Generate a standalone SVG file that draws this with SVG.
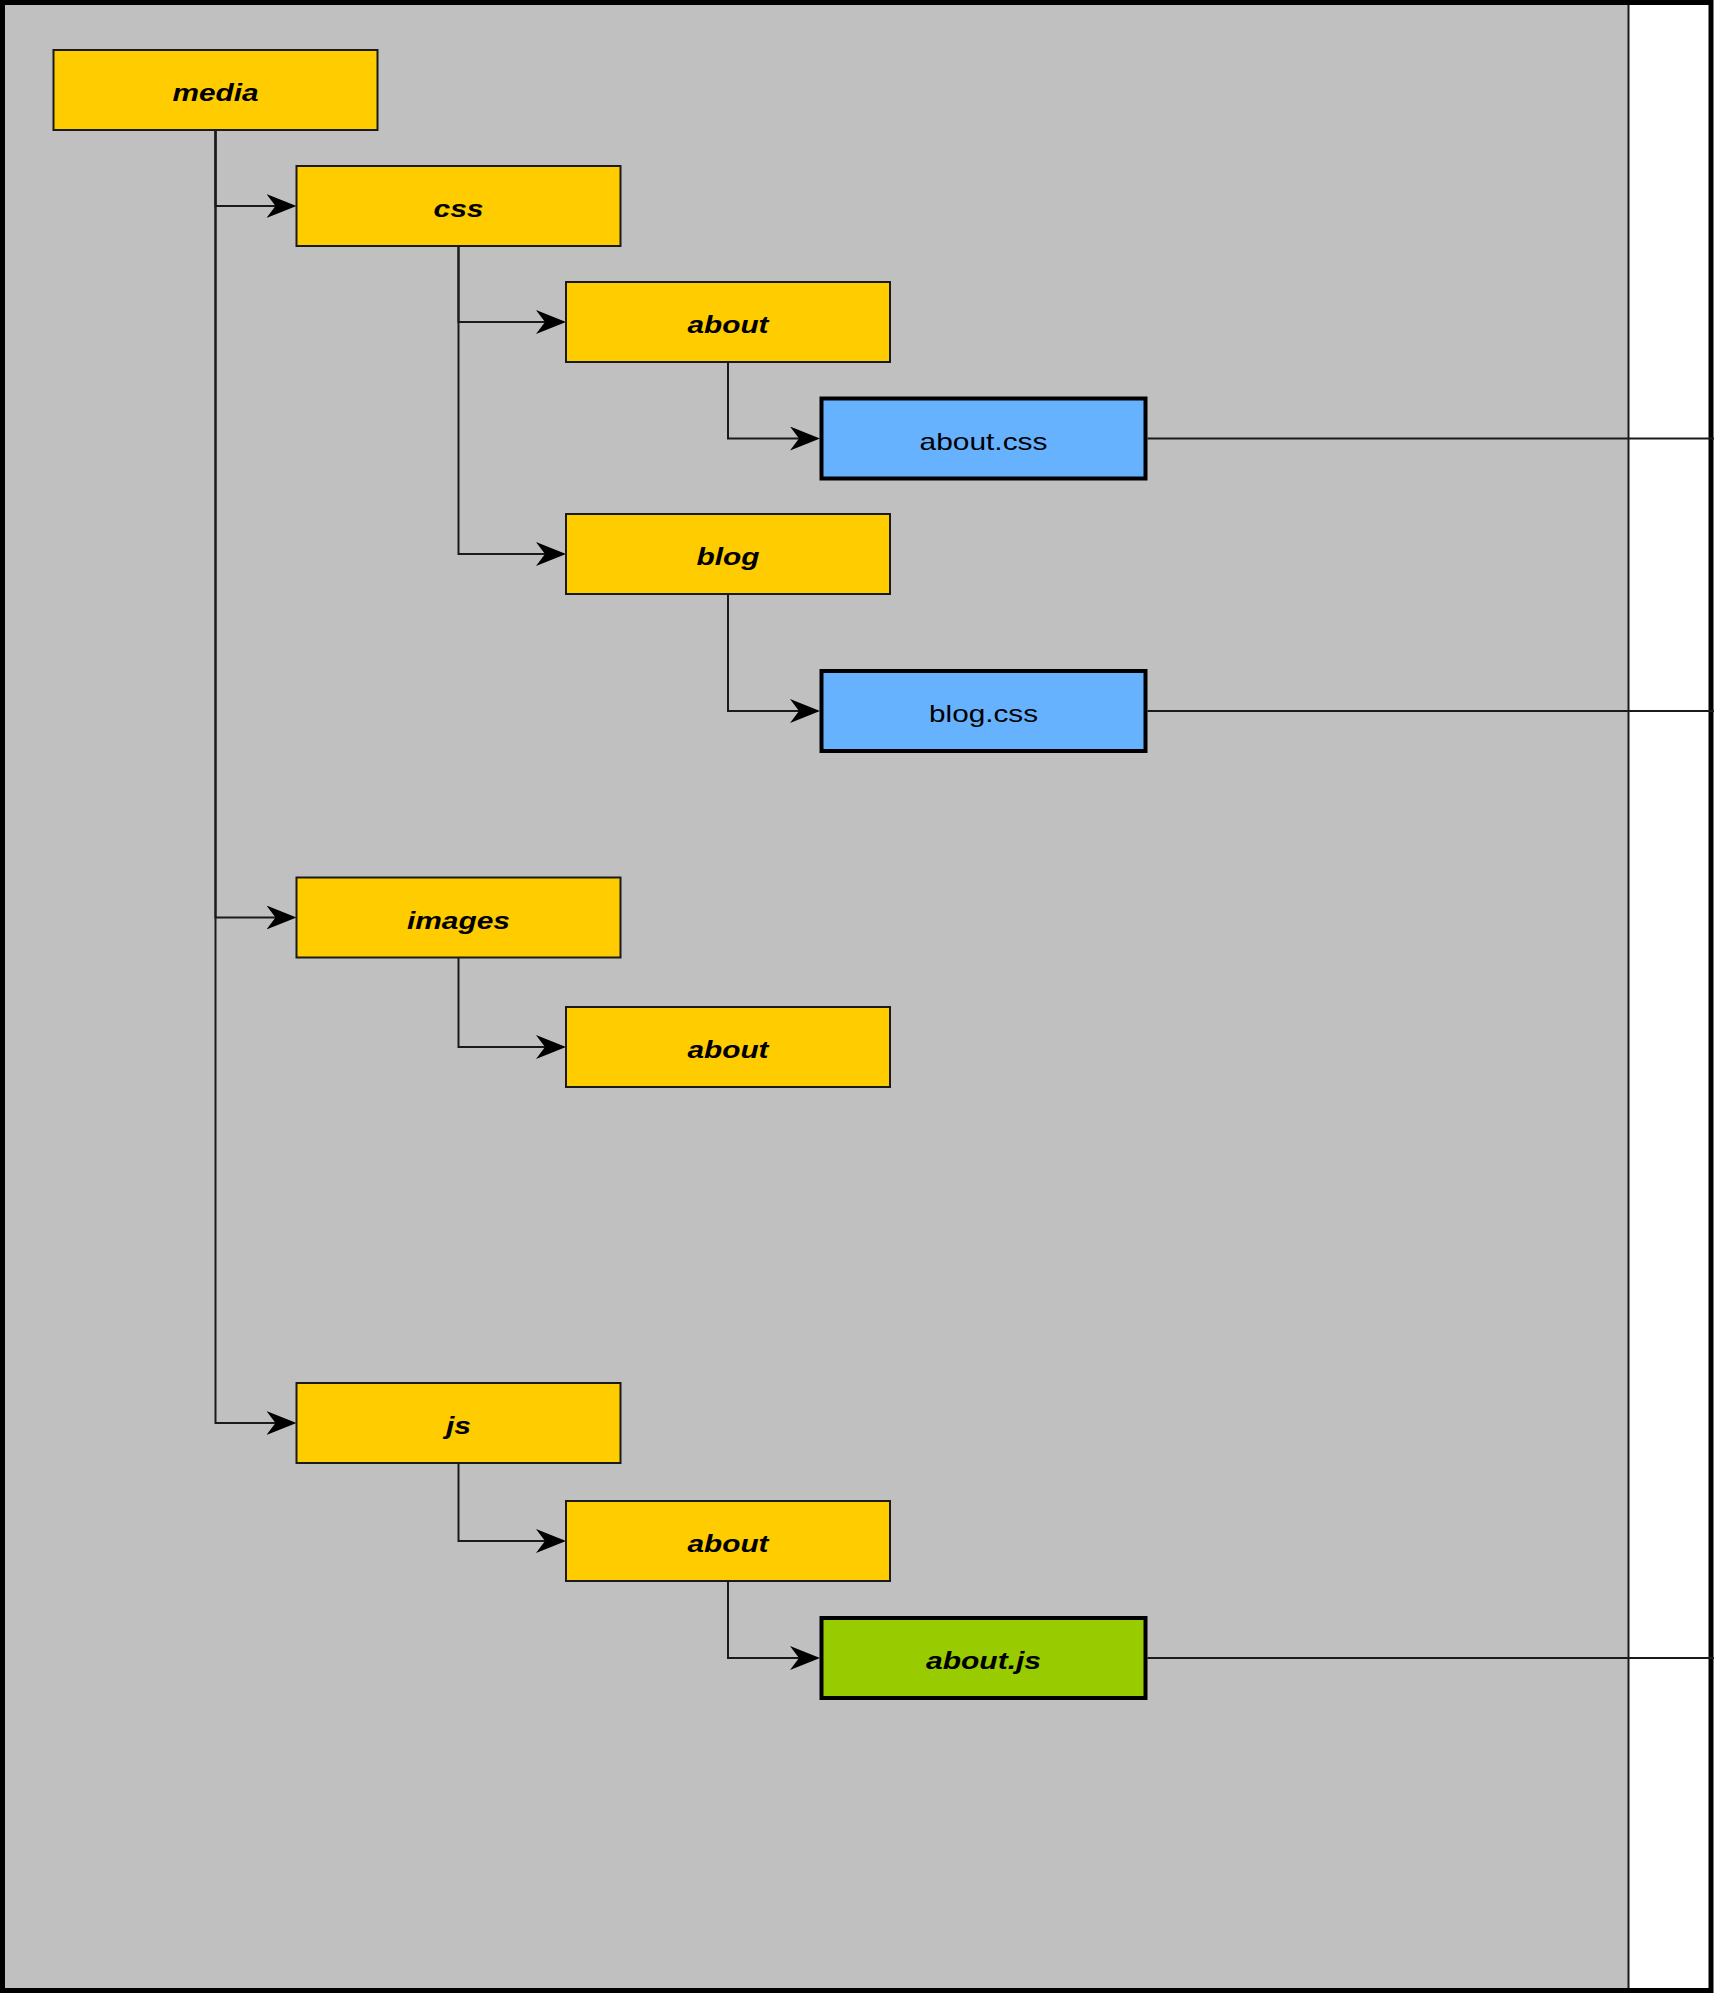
<svg xmlns="http://www.w3.org/2000/svg" width="1714" height="1993" viewBox="0 0 1714 1993">
<style>
.folder{fill:#FFCC00;stroke:#1a1a1a;stroke-width:2}
.css{fill:#66B2FF;stroke:#000;stroke-width:4}
.jsf{fill:#99CC00;stroke:#000;stroke-width:4}
.lbl{font-family:"Liberation Sans",Arial,sans-serif;font-size:24px;fill:#000;text-anchor:middle}
.bi{font-weight:bold;font-style:italic}
.edge{fill:none;stroke:#1a1a1a;stroke-width:2}
</style>
<defs>
<marker id="arr" markerUnits="userSpaceOnUse" viewBox="-30 -12 30 24" refX="-15" refY="0" markerWidth="30" markerHeight="24" orient="auto">
<path d="M0,0 L-30,-12 L-21,0 L-30,12 Z" fill="#000"/>
</marker>
</defs>
<rect x="0" y="0" width="1714" height="1993" fill="#fff"/>
<rect x="0" y="0" width="1628.5" height="1993" fill="#C0C0C0"/>
<line x1="1628.5" y1="0" x2="1628.5" y2="1993" stroke="#1a1a1a" stroke-width="2"/>
<rect x="2.5" y="2.5" width="1708.5" height="1988" fill="none" stroke="#000" stroke-width="5"/>
<g id="connectors">
<path class="edge" d="M215.5,130 V206 H281.5" marker-end="url(#arr)"/>
<path class="edge" d="M215.5,130 V917.5 H281.5" marker-end="url(#arr)"/>
<path class="edge" d="M215.5,130 V1423 H281.5" marker-end="url(#arr)"/>
<path class="edge" d="M458.5,246 V322 H551" marker-end="url(#arr)"/>
<path class="edge" d="M458.5,246 V554 H551" marker-end="url(#arr)"/>
<path class="edge" d="M728,362 V438.5 H805" marker-end="url(#arr)"/>
<path class="edge" d="M728,594 V711 H805" marker-end="url(#arr)"/>
<path class="edge" d="M458.5,957.5 V1047 H551" marker-end="url(#arr)"/>
<path class="edge" d="M458.5,1463 V1541 H551" marker-end="url(#arr)"/>
<path class="edge" d="M728,1581 V1658 H805" marker-end="url(#arr)"/>
<path class="edge" d="M1147.5,438.5 H1714"/>
<path class="edge" d="M1147.5,711 H1714"/>
<path class="edge" d="M1147.5,1658 H1714"/>
</g>
<g id="media"><rect class="folder" x="53.5" y="50" width="324" height="80"/><text class="lbl bi" x="215.5" y="101" textLength="86" lengthAdjust="spacingAndGlyphs">media</text></g>
<g id="css"><rect class="folder" x="296.5" y="166" width="324" height="80"/><text class="lbl bi" x="458.5" y="217" textLength="50" lengthAdjust="spacingAndGlyphs">css</text></g>
<g id="css-about"><rect class="folder" x="566" y="282" width="324" height="80"/><text class="lbl bi" x="728" y="333" textLength="81" lengthAdjust="spacingAndGlyphs">about</text></g>
<g id="about-css"><rect class="css" x="821.5" y="398.5" width="324" height="80"/><text class="lbl" x="983.5" y="449.5" textLength="128" lengthAdjust="spacingAndGlyphs">about.css</text></g>
<g id="css-blog"><rect class="folder" x="566" y="514" width="324" height="80"/><text class="lbl bi" x="728" y="565" textLength="63" lengthAdjust="spacingAndGlyphs">blog</text></g>
<g id="blog-css"><rect class="css" x="821.5" y="671" width="324" height="80"/><text class="lbl" x="983.5" y="722" textLength="109" lengthAdjust="spacingAndGlyphs">blog.css</text></g>
<g id="images"><rect class="folder" x="296.5" y="877.5" width="324" height="80"/><text class="lbl bi" x="458.5" y="928.5" textLength="103" lengthAdjust="spacingAndGlyphs">images</text></g>
<g id="images-about"><rect class="folder" x="566" y="1007" width="324" height="80"/><text class="lbl bi" x="728" y="1058" textLength="81" lengthAdjust="spacingAndGlyphs">about</text></g>
<g id="js"><rect class="folder" x="296.5" y="1383" width="324" height="80"/><text class="lbl bi" x="458.5" y="1434" textLength="25" lengthAdjust="spacingAndGlyphs">js</text></g>
<g id="js-about"><rect class="folder" x="566" y="1501" width="324" height="80"/><text class="lbl bi" x="728" y="1552" textLength="81" lengthAdjust="spacingAndGlyphs">about</text></g>
<g id="about-js"><rect class="jsf" x="821.5" y="1618" width="324" height="80"/><text class="lbl bi" x="983.5" y="1669" textLength="115" lengthAdjust="spacingAndGlyphs">about.js</text></g>
</svg>
